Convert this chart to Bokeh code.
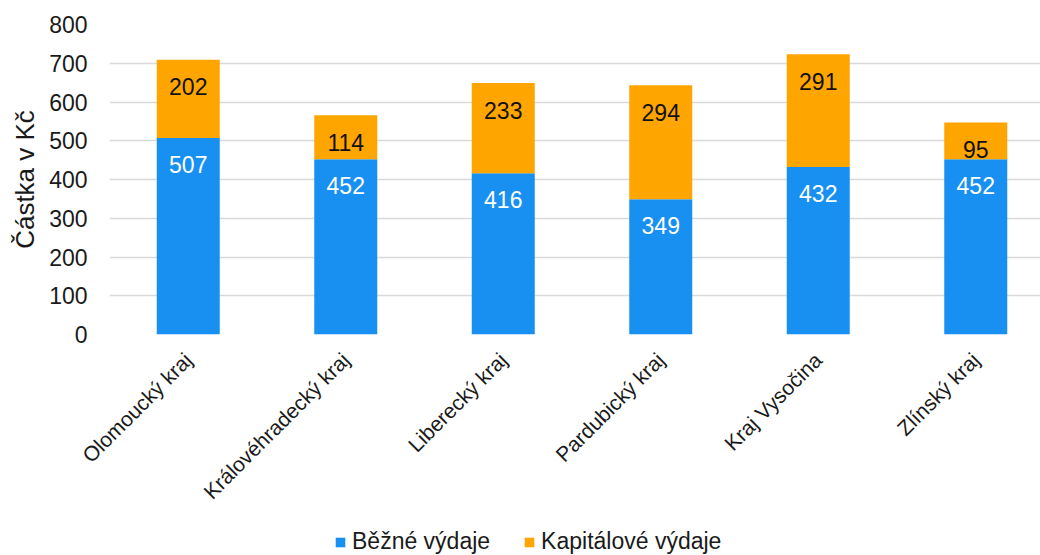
from bokeh.plotting import figure
from bokeh.models import ColumnDataSource, FixedTicker, Legend, LegendItem, Range1d
from bokeh.layouts import column
from bokeh.core.properties import value
from bokeh.embed import file_html
from bokeh.resources import INLINE
import math

regions = ["Olomoucký kraj", "Královéhradecký kraj", "Liberecký kraj",
           "Pardubický kraj", "Kraj Vysočina", "Zlínský kraj"]
bezne = [507, 452, 416, 349, 432, 452]
kapitalove = [202, 114, 233, 294, 291, 95]
series_names = ["Běžné výdaje", "Kapitálové výdaje"]
colors = ["#1890F1", "#FFA500"]
y_ticks = [0, 100, 200, 300, 400, 500, 600, 700, 800]

FONT = "Liberation Sans"
xs = list(range(len(regions)))
totals = [b + k for b, k in zip(bezne, kapitalove)]

src = ColumnDataSource(dict(x=xs, bezne=bezne, kapitalove=kapitalove,
                            total=totals,
                            lb=[str(v) for v in bezne],
                            lk=[str(v) for v in kapitalove]))

p = figure(width=1040, height=529, output_backend="svg", toolbar_location=None,
           x_range=Range1d(-0.5, -0.5 + 931 / 157.5), y_range=Range1d(0, 800),
           min_border_left=109, min_border_right=0, min_border_top=24,
           min_border_bottom=195)
p.outline_line_color = None

r = p.vbar_stack(["bezne", "kapitalove"], x="x", width=0.4, color=colors,
                 line_color=None, source=src)

p.text(x="x", y="bezne", text="lb", source=src, text_color="white",
       text_font=value(FONT), text_font_size="23px", text_align="center",
       text_baseline="middle", y_offset=26)
p.text(x="x", y="total", text="lk", source=src, text_color="#111111",
       text_font=value(FONT), text_font_size="23px", text_align="center",
       text_baseline="middle", y_offset=27)

# axes
p.xaxis.ticker = FixedTicker(ticks=xs)
p.xaxis.major_label_overrides = {i: n for i, n in enumerate(regions)}
p.xaxis.major_label_orientation = math.pi / 4
p.xaxis.major_label_text_font = FONT
p.xaxis.major_label_text_font_size = "21px"
p.xaxis.major_label_text_color = "#1a1a1a"
p.xaxis.major_label_standoff = 16
p.xaxis.axis_line_color = None
p.xaxis.major_tick_line_color = None
p.xaxis.minor_tick_line_color = None

p.yaxis.ticker = FixedTicker(ticks=y_ticks)
p.yaxis.major_label_text_font = FONT
p.yaxis.major_label_text_font_size = "23px"
p.yaxis.major_label_text_color = "#1a1a1a"
p.yaxis.major_label_standoff = 16
p.yaxis.axis_line_color = None
p.yaxis.major_tick_line_color = None
p.yaxis.minor_tick_line_color = None
p.yaxis.axis_label = "Částka v Kč"
p.yaxis.axis_label_text_font = FONT
p.yaxis.axis_label_text_font_size = "26px"
p.yaxis.axis_label_text_font_style = "normal"
p.yaxis.axis_label_text_color = "#1a1a1a"
p.yaxis.axis_label_standoff = 6

p.xgrid.grid_line_color = None
p.ygrid.grid_line_color = "#d9d9d9"
p.ygrid.grid_line_width = 1.5
p.ygrid.ticker = FixedTicker(ticks=y_ticks)

# legend strip (separate small figure below the chart, frames aligned)
lg = figure(width=1040, height=26, output_backend="svg", toolbar_location=None,
            x_axis_type=None, y_axis_type=None, x_range=Range1d(0, 1),
            y_range=Range1d(0, 1), min_border=0)
lg.outline_line_color = None
lg.xgrid.visible = False
lg.ygrid.visible = False
dummy = [lg.vbar(x=[-5], top=[0], width=0.4, color=c, line_color=None)
         for c in colors]

legend = Legend(items=[LegendItem(label=series_names[i], renderers=[dummy[i]])
                       for i in range(2)],
                location=(225, 0), orientation="horizontal",
                border_line_color=None, background_fill_alpha=0,
                label_text_font=FONT, label_text_font_size="23px",
                label_text_color="#1a1a1a", label_height=24,
                glyph_width=12, glyph_height=12, label_standoff=6,
                spacing=33, padding=0, margin=0)
lg.add_layout(legend)

layout = column(p, lg, spacing=0)
open("out.html", "w").write(file_html(layout, INLINE))
